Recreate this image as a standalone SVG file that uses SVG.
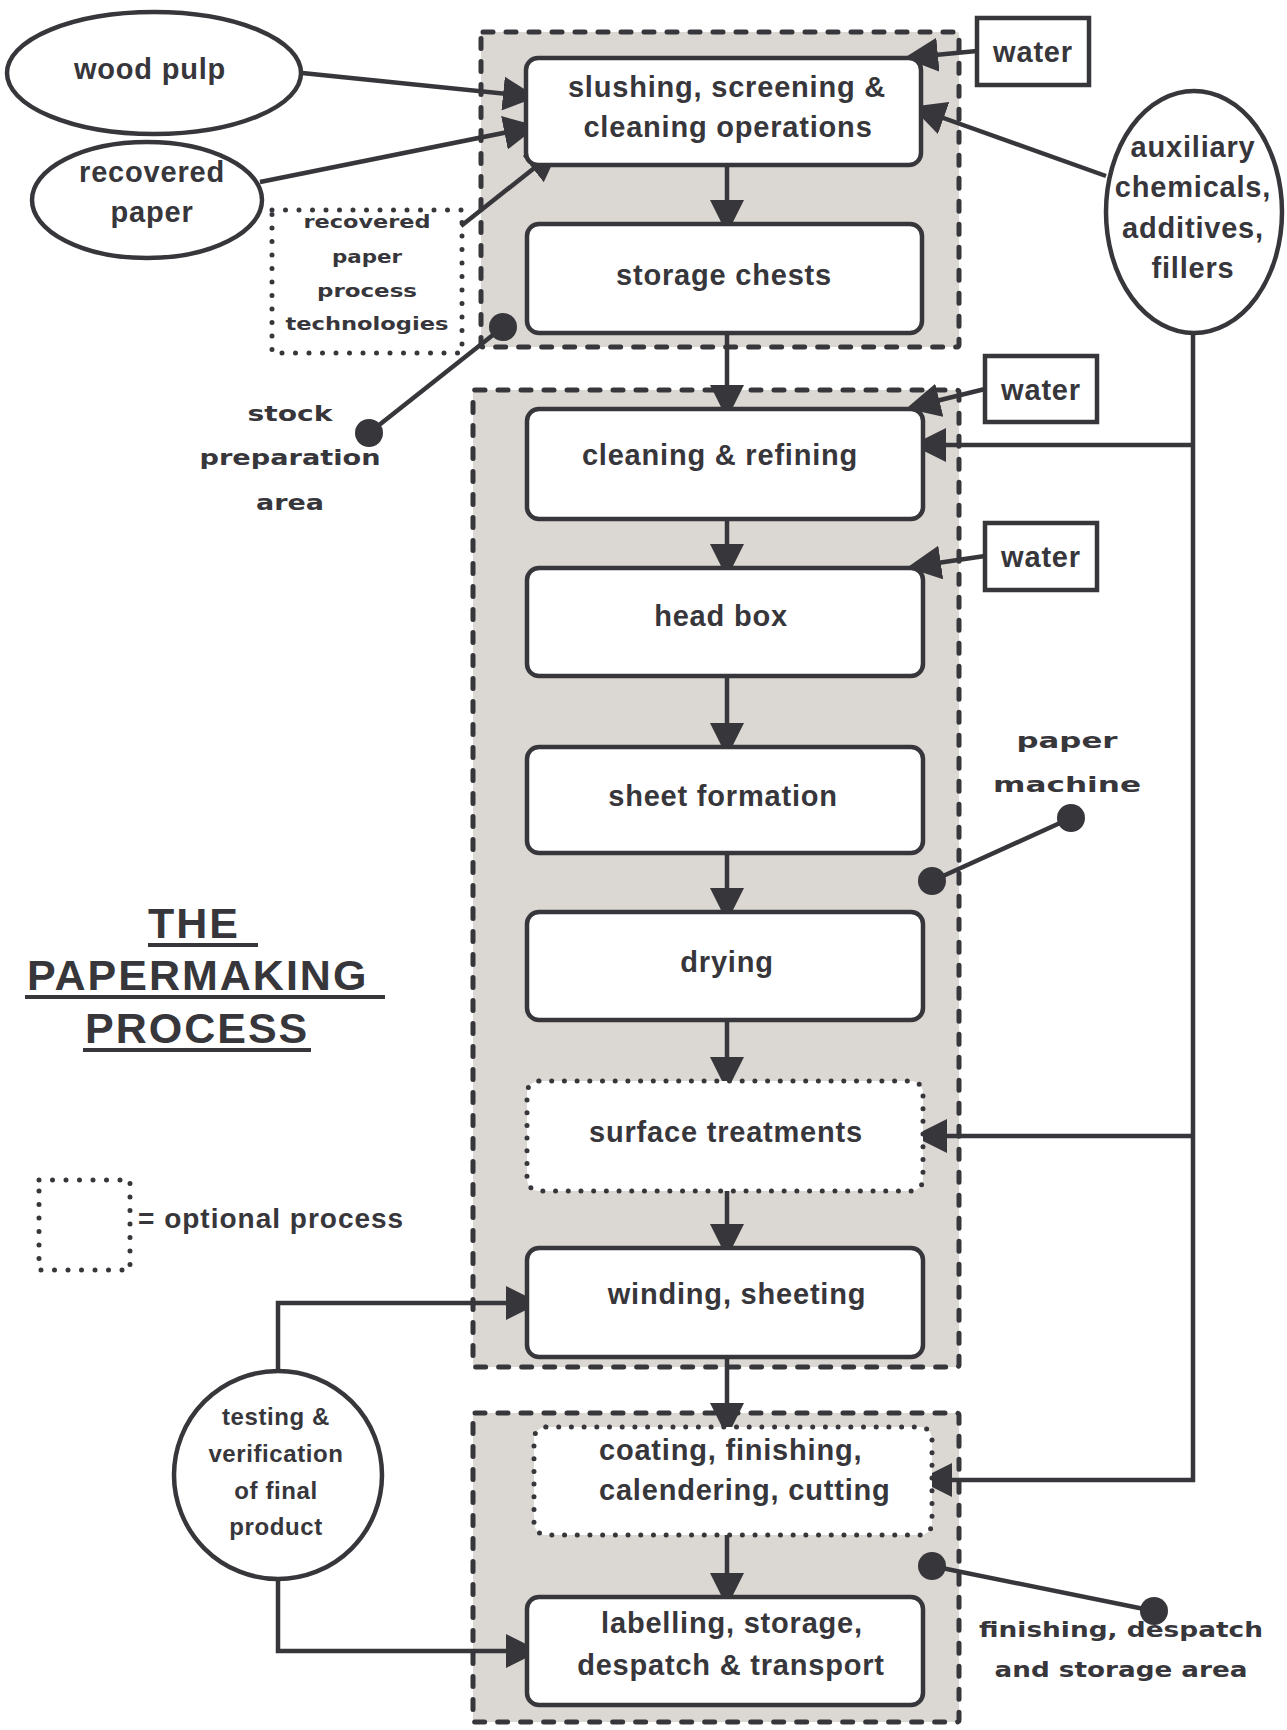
<svg xmlns="http://www.w3.org/2000/svg" width="1287" height="1730" viewBox="0 0 1287 1730">
<style>
text{font-family:"Liberation Sans",Arial,sans-serif;font-weight:bold;fill:#37363b}
.t{font-size:29px;letter-spacing:0.8px;text-anchor:middle}
.s{font-size:24px;letter-spacing:0.6px;text-anchor:middle}
.w{font-family:"DejaVu Sans","Liberation Sans",sans-serif;font-weight:bold;text-anchor:middle}
.ttl{font-size:43px;letter-spacing:2px}
.region{fill:#dbd7d3;stroke:#37363b;stroke-width:5;stroke-dasharray:10 13;stroke-linecap:round}
.box{fill:#fff;stroke:#37363b;stroke-width:4.5}
.opt{fill:#fff;stroke:#37363b;stroke-width:5;stroke-dasharray:0 12.7;stroke-linecap:round}
.dot{fill:none;stroke:#37363b;stroke-width:5;stroke-dasharray:0 13.5;stroke-linecap:round}
.sh{fill:#fff;stroke:#37363b;stroke-width:4.5}
.c{fill:none;stroke:#37363b;stroke-width:4.5;marker-end:url(#ah)}
.p{fill:none;stroke:#37363b;stroke-width:4.5}
.pd{fill:#37363b}
.ul{stroke:#37363b;stroke-width:4}
</style>
<defs>
<marker id="ah" markerUnits="userSpaceOnUse" viewBox="0 0 34 34" markerWidth="34" markerHeight="34" refX="24" refY="17" orient="auto">
<path d="M0,0 L34,17 L0,34 z" fill="#37363b"/>
</marker>
</defs>

<g id="regions">
<rect id="r-stock" class="region" x="481" y="32" width="478" height="315" rx="2"/>
<rect id="r-machine" class="region" x="473" y="390" width="486" height="977" rx="2"/>
<rect id="r-finish" class="region" x="473" y="1413" width="486" height="309" rx="2"/>
</g>

<g id="connectors">
<line class="c" x1="302" y1="73" x2="527" y2="96"/>
<line class="c" x1="260" y1="182" x2="528" y2="128"/>
<line class="c" x1="461" y1="226" x2="552" y2="154"/>
<line class="c" x1="977" y1="51" x2="914" y2="57"/>
<line class="c" x1="1106" y1="176" x2="921" y2="110"/>
<line class="c" x1="727" y1="165" x2="727" y2="224"/>
<line class="c" x1="727" y1="333" x2="727" y2="409"/>
<line class="c" x1="727" y1="519" x2="727" y2="568"/>
<line class="c" x1="727" y1="676" x2="727" y2="747"/>
<line class="c" x1="727" y1="853" x2="727" y2="912"/>
<line class="c" x1="727" y1="1020" x2="727" y2="1081"/>
<line class="c" x1="727" y1="1191" x2="727" y2="1248"/>
<line class="c" x1="727" y1="1357" x2="727" y2="1427"/>
<line class="c" x1="727" y1="1535" x2="727" y2="1597"/>
<line class="c" x1="985" y1="389" x2="916" y2="406"/>
<line class="c" x1="985" y1="556" x2="917" y2="566"/>
<path class="c" d="M1193,333 V1480 H928"/>
<path class="c" d="M1193,445 H922"/>
<path class="c" d="M1193,1136 H923"/>
<path class="c" d="M278,1371 V1303 H530"/>
<path class="c" d="M278,1579 V1651 H530"/>
<line class="p" x1="503" y1="327" x2="369" y2="433"/>
<circle class="pd" cx="503" cy="327" r="14"/>
<circle class="pd" cx="369" cy="433" r="14"/>
<line class="p" x1="932" y1="881" x2="1071" y2="818"/>
<circle class="pd" cx="932" cy="881" r="14"/>
<circle class="pd" cx="1071" cy="818" r="14"/>
<line class="p" x1="932" y1="1566" x2="1154" y2="1611"/>
<circle class="pd" cx="932" cy="1566" r="14"/>
<circle class="pd" cx="1154" cy="1611" r="14"/>
</g>

<g id="n-wood">
<ellipse class="sh" cx="154" cy="73" rx="147" ry="61"/>
<text class="t" x="150" y="79">wood pulp</text>
</g>
<g id="n-recovered">
<ellipse class="sh" cx="147" cy="200" rx="115" ry="58"/>
<text class="t" x="152" y="182">recovered</text>
<text class="t" x="152" y="222">paper</text>
</g>
<g id="n-tech">
<rect class="dot" x="272" y="210" width="190" height="143"/>
<text class="w" x="367" y="228" font-size="18" textLength="127" lengthAdjust="spacingAndGlyphs">recovered</text>
<text class="w" x="367" y="263" font-size="18" textLength="70" lengthAdjust="spacingAndGlyphs">paper</text>
<text class="w" x="367" y="297" font-size="18" textLength="100" lengthAdjust="spacingAndGlyphs">process</text>
<text class="w" x="367" y="330" font-size="18" textLength="163" lengthAdjust="spacingAndGlyphs">technologies</text>
</g>
<g id="n-water1">
<rect class="sh" x="977" y="18" width="112" height="67"/>
<text class="t" x="1033" y="62">water</text>
</g>
<g id="n-aux">
<ellipse class="sh" cx="1194" cy="212" rx="88" ry="121"/>
<text class="t" x="1193" y="157">auxiliary</text>
<text class="t" x="1193" y="197">chemicals,</text>
<text class="t" x="1193" y="238">additives,</text>
<text class="t" x="1193" y="278">fillers</text>
</g>
<g id="n-water2">
<rect class="sh" x="985" y="356" width="112" height="66"/>
<text class="t" x="1041" y="400">water</text>
</g>
<g id="n-water3">
<rect class="sh" x="985" y="523" width="112" height="67"/>
<text class="t" x="1041" y="567">water</text>
</g>

<g id="n-slushing">
<rect class="box" x="526" y="58" width="395" height="107" rx="12"/>
<text class="t" x="727" y="97">slushing, screening &amp;</text>
<text class="t" x="728" y="137">cleaning operations</text>
</g>
<g id="n-storage">
<rect class="box" x="527" y="224" width="395" height="109" rx="12"/>
<text class="t" x="724" y="285">storage chests</text>
</g>
<g id="n-cleaning">
<rect class="box" x="527" y="409" width="396" height="110" rx="12"/>
<text class="t" x="720" y="465">cleaning &amp; refining</text>
</g>
<g id="n-headbox">
<rect class="box" x="527" y="568" width="396" height="108" rx="12"/>
<text class="t" x="721" y="626">head box</text>
</g>
<g id="n-sheet">
<rect class="box" x="527" y="747" width="396" height="106" rx="12"/>
<text class="t" x="723" y="806">sheet formation</text>
</g>
<g id="n-drying">
<rect class="box" x="527" y="912" width="396" height="108" rx="12"/>
<text class="t" x="727" y="972">drying</text>
</g>
<g id="n-surface">
<rect class="opt" x="527" y="1081" width="396" height="110" rx="12"/>
<text class="t" x="726" y="1142">surface treatments</text>
</g>
<g id="n-winding">
<rect class="box" x="527" y="1248" width="396" height="109" rx="12"/>
<text class="t" x="737" y="1304">winding, sheeting</text>
</g>
<g id="n-coating">
<rect class="opt" x="534" y="1427" width="398" height="108" rx="12"/>
<text class="t" x="599" y="1460" style="text-anchor:start">coating, finishing,</text>
<text class="t" x="599" y="1500" style="text-anchor:start">calendering, cutting</text>
</g>
<g id="n-labelling">
<rect class="box" x="527" y="1597" width="396" height="108" rx="12"/>
<text class="t" x="732" y="1633">labelling, storage,</text>
<text class="t" x="731" y="1675">despatch &amp; transport</text>
</g>
<g id="n-testing">
<circle class="sh" cx="278" cy="1475" r="104"/>
<text class="s" x="276" y="1425">testing &amp;</text>
<text class="s" x="276" y="1462">verification</text>
<text class="s" x="276" y="1499">of final</text>
<text class="s" x="276" y="1535">product</text>
</g>

<g id="labels">
<text class="w" x="290" y="421" font-size="22" textLength="85" lengthAdjust="spacingAndGlyphs">stock</text>
<text class="w" x="290" y="465" font-size="22" textLength="181" lengthAdjust="spacingAndGlyphs">preparation</text>
<text class="w" x="290" y="510" font-size="22" textLength="68" lengthAdjust="spacingAndGlyphs">area</text>
<text class="w" x="1067" y="748" font-size="21" textLength="101" lengthAdjust="spacingAndGlyphs">paper</text>
<text class="w" x="1067" y="792" font-size="21" textLength="148" lengthAdjust="spacingAndGlyphs">machine</text>
<text class="w" x="1121" y="1637" font-size="21" textLength="284" lengthAdjust="spacingAndGlyphs">finishing, despatch</text>
<text class="w" x="1121" y="1677" font-size="21" textLength="253" lengthAdjust="spacingAndGlyphs">and storage area</text>
</g>

<g id="title">
<text class="ttl" x="148" y="938">THE</text>
<text class="ttl" x="27" y="990">PAPERMAKING</text>
<text class="ttl" x="85" y="1043">PROCESS</text>
<line class="ul" x1="148" y1="945" x2="258" y2="945"/>
<line class="ul" x1="25" y1="997" x2="385" y2="997"/>
<line class="ul" x1="83" y1="1050" x2="311" y2="1050"/>
</g>

<g id="legend">
<rect class="dot" x="39" y="1180" width="91" height="90"/>
<text class="t" x="138" y="1228" style="text-anchor:start;letter-spacing:1px;font-size:28px">= optional process</text>
</g>
</svg>
